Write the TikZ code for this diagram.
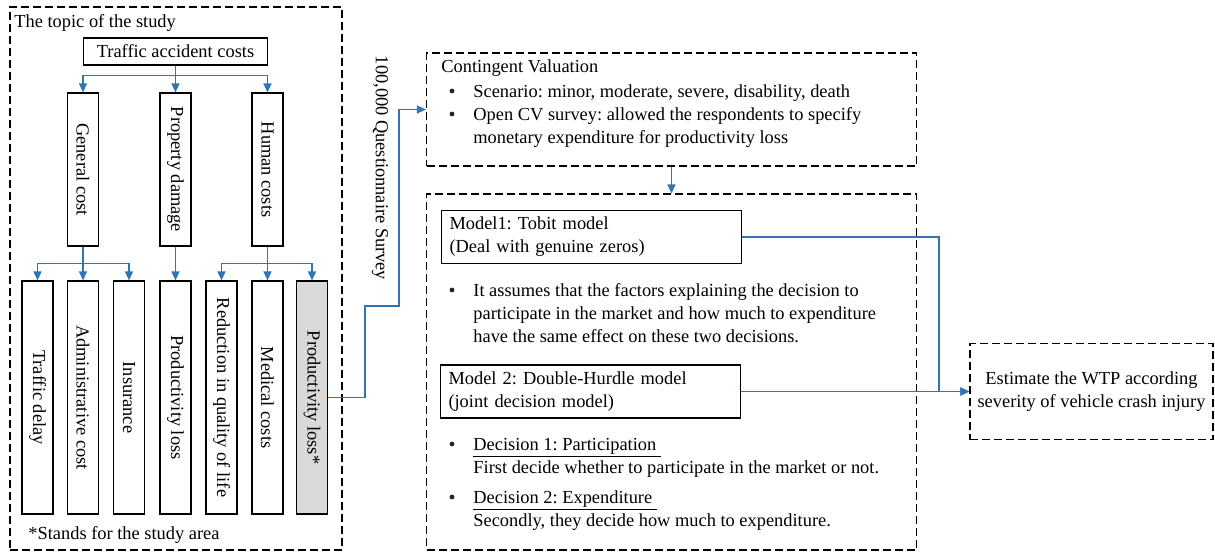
\documentclass[tikz,border=0pt]{standalone}
\usepackage{fontspec}
\setmainfont{Liberation Serif}
\frenchspacing
\usetikzlibrary{arrows.meta}
\definecolor{arrblue}{RGB}{46,117,182}
\begin{document}
\begin{tikzpicture}[x=0.5pt,y=-0.5pt,font=\fontsize{9.2}{11.5}\selectfont,
  box/.style={draw,line width=0.6pt,inner sep=0pt},
  vbox/.style={box,rotate=-90,minimum height=15.5pt},
  mbox/.style={draw,line width=0.6pt,align=left,text width=142pt,inner xsep=4pt,minimum height=26pt},
  dbox/.style={draw,line width=0.6pt,dash pattern=on 4pt off 2pt,inner sep=0pt},
  txt/.style={anchor=base west,inner sep=0pt,align=left},
  dot/.style={circle,fill=black!85,inner sep=0pt,minimum size=2.4pt},
  arr/.style={draw=arrblue,line width=0.6pt,-{Triangle[length=4.5pt,width=4pt]}}]
\useasboundingbox (0,0) rectangle (1215,552);
% topic of the study
\node[dbox,minimum width=166pt,minimum height=271.5pt] (v0) at (176,278.5) {};
\node[txt] at (14,27) {The topic of the study};
\node[box,minimum width=92pt,minimum height=13.5pt] (v1) at (175.5,51.5) {Traffic accident costs};
\node[vbox,minimum width=76.5pt] (v2) at (83,169.5) {General cost};
\node[vbox,minimum width=76.5pt] (v3) at (175.5,169.5) {Property damage};
\node[vbox,minimum width=76.5pt] (v4) at (267.5,169.5) {Human costs};
\node[vbox,minimum width=116.5pt] (v5) at (37.5,397.5) {Traffic delay};
\node[vbox,minimum width=116.5pt] (v6) at (83,397.5) {Administrative cost};
\node[vbox,minimum width=116.5pt] (v7) at (129,397.5) {Insurance};
\node[vbox,minimum width=116.5pt] (v8) at (175.5,397.5) {Productivity loss};
\node[vbox,minimum width=116.5pt] (v9) at (221.5,397.5) {Reduction in quality of life};
\node[vbox,minimum width=116.5pt] (v10) at (267.5,397.5) {Medical costs};
\node[vbox,minimum width=116.5pt,fill=black!15] (v11) at (312,397.5) {Productivity loss*};
\node[txt] at (28,539) {*Stands for the study area};
\draw[arr] (v1) -- (v3);
\draw[arr] (v1.south) -- ++(0,10) -| (v2);
\draw[arr] (v1.south) -- ++(0,10) -| (v4);
\draw[arr] (v2) -- (v6);
\draw[arr] (v2.east) -- ++(0,17) -| (v5);
\draw[arr] (v2.east) -- ++(0,17) -| (v7);
\draw[arr] (v3) -- (v8);
\draw[arr] (v4) -- (v10);
\draw[arr] (v4.east) -- ++(0,17) -| (v9);
\draw[arr] (v4.east) -- ++(0,17) -| (v11);
% survey
\node[rotate=-90] (v13) at (380,168) {100,000 Questionnaire Survey};
% contingent valuation
\node[dbox,minimum width=245pt,minimum height=56.5pt] (v12) at (671.5,109.5) {};
\node[txt] at (441,72) {Contingent Valuation};
\node[dot] at (452,91) {};
\node[txt] at (473,97) {Scenario: minor, moderate, severe, disability, death};
\node[dot] at (452,114) {};
\node[txt] at (473,143) {Open CV survey: allowed the respondents to specify\\monetary expenditure for productivity loss};
\draw[arr] (v11.north) -| (365,306) -| (399,109.5) -- (v12);
% models
\node[dbox,minimum width=245pt,minimum height=178pt] (v14) at (671.5,372) {};
\draw[arr] (v12) -- (v14);
\node[mbox] (v15) at (591.5,237) {Model1: Tobit model\\(Deal with genuine zeros)};
\node[dot] at (452,290) {};
\node[txt] at (473,342) {It assumes that the factors explaining the decision to\\participate in the market and how much to expenditure\\have the same effect on these two decisions.};
\node[mbox] (v16) at (590.5,391.5) {Model 2: Double-Hurdle model\\(joint decision model)};
\node[dot] at (452,444) {};
\node[txt] at (473,473) {\underline{Decision 1: Participation\ }\\First decide whether to participate in the market or not.};
\node[dot] at (452,497) {};
\node[txt] at (473,526) {\underline{Decision 2: Expenditure\ }\\Secondly, they decide how much to expenditure.};
% WTP
\node[dbox,minimum width=121.5pt,minimum height=48pt,align=center] (v17) at (1091.5,391.5) {Estimate the WTP according\\severity of vehicle crash injury};
\draw[arr] (v15.east) -| (939,391.5) -- (v17);
\draw[arr] (v16) -- (v17);
\end{tikzpicture}
\end{document}
